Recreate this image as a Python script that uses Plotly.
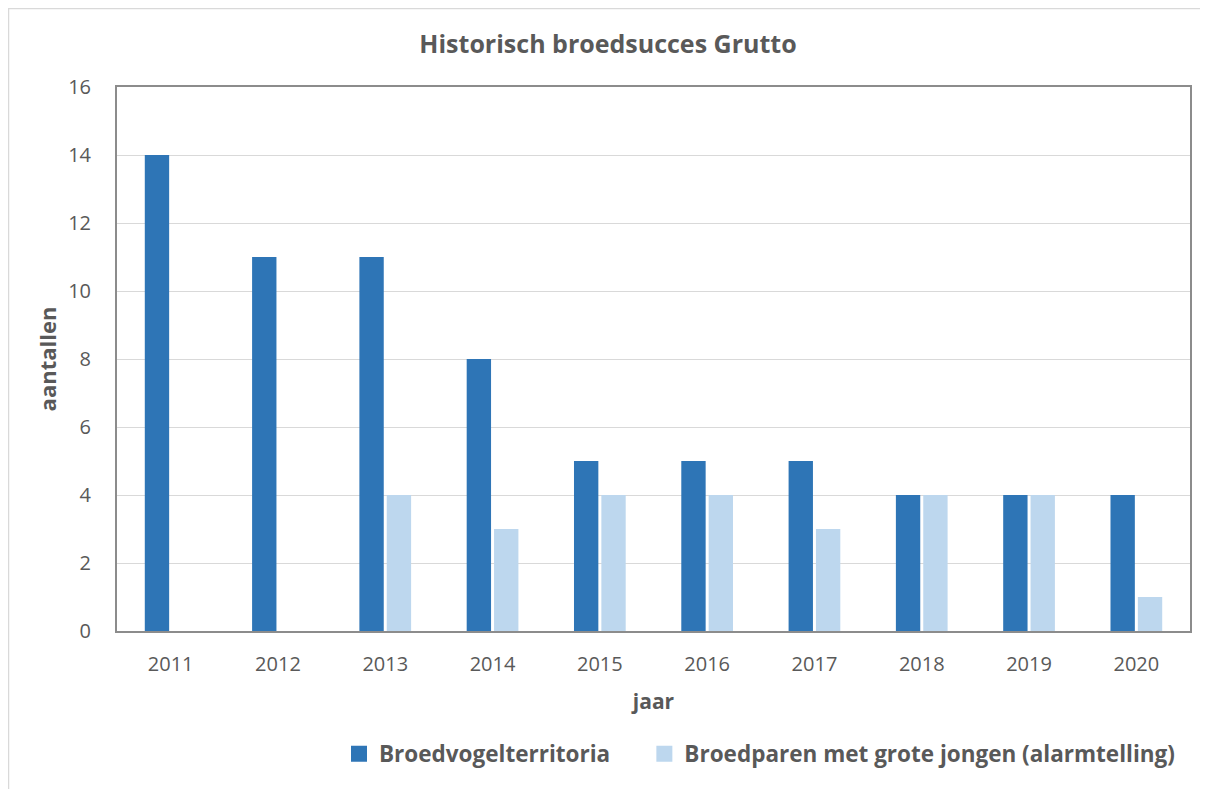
import plotly.graph_objects as go

years = ["2011", "2012", "2013", "2014", "2015", "2016", "2017", "2018", "2019", "2020"]
territoria = [14, 11, 11, 8, 5, 5, 5, 4, 4, 4]
broedparen = [None, None, 4, 3, 4, 4, 3, 4, 4, 1]
names = ["Broedvogelterritoria", "Broedparen met grote jongen (alarmtelling)"]
colors = ["#2e75b6", "#bdd7ee"]

FONT = "'Open Sans', sans-serif"
GRAY = "#595959"

fig = go.Figure()
for vals, nm, col in zip([territoria, broedparen], names, colors):
    fig.add_trace(go.Bar(x=years, y=vals, name=nm, showlegend=False,
                         marker=dict(color=col, line=dict(width=0))))
# legend entries with larger square symbols
pads = ["\u00a0" * 5, ""]
for nm, col, pad in zip(names, colors, pads):
    fig.add_trace(go.Scatter(x=[None], y=[None], mode="markers", name="<b>" + nm + pad + "</b>",
                             marker=dict(symbol="square", size=16, color=col, line=dict(width=0))))

# page body has an 8px margin; figure coordinates are offset accordingly
W, H = 1200, 781
L, R, T, B = 109, 18, 79, 158
pw, ph = W - L - R, H - T - B

fig.update_layout(
    width=W, height=H,
    margin=dict(l=L, r=R, t=T, b=B),
    paper_bgcolor="white", plot_bgcolor="white",
    barmode="group", bargap=0.49, bargroupgap=0.11,
    title=dict(text="<b>Historisch broedsucces Grutto</b>", x=0.5, xanchor="center",
               y=1 - 36 / H, yanchor="middle",
               font=dict(family=FONT, size=25, color=GRAY)),
    font=dict(family=FONT, color=GRAY),
    xaxis=dict(title=dict(text="<b>jaar</b>", font=dict(size=21, color=GRAY), standoff=18),
               tickfont=dict(size=20, color=GRAY), showline=True, linecolor="#8c8c8c",
               linewidth=2, mirror=True, ticks="", showgrid=False, ticklabelstandoff=14),
    yaxis=dict(title=dict(text="<b>aantallen</b>", font=dict(size=22, color=GRAY), standoff=5),
               range=[0, 16], dtick=2, tickfont=dict(size=20, color=GRAY),
               showline=True, linecolor="#8c8c8c", linewidth=2, mirror=True,
               gridcolor="#d9d9d9", gridwidth=1, ticks="", zeroline=False,
               ticklabelstandoff=20),
    legend=dict(orientation="h", x=(331 - L) / pw, xanchor="left",
                y=-(746 - (T + ph)) / ph, yanchor="middle",
                font=dict(size=22.5, color=GRAY, family=FONT), itemwidth=30,
                traceorder="normal"),
    showlegend=True,
)

# outer chart border
fig.add_shape(type="rect", xref="paper", yref="paper",
              x0=(0.5 - L) / pw, x1=(W + 10 - L) / pw,
              y0=-(H + 10 - T - ph) / ph, y1=(T + ph - 0.5) / ph,
              line=dict(color="#d9d9d9", width=1.5), layer="below")

fig.write_html("out.html")
